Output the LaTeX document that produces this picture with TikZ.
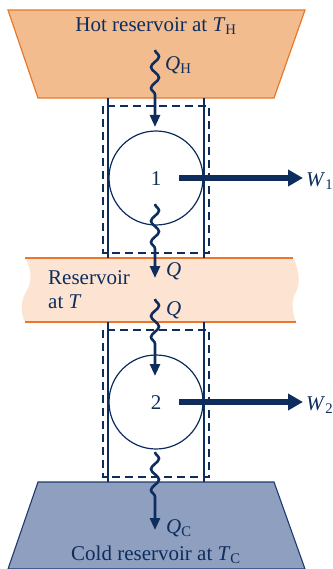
\documentclass[tikz,border=0pt]{standalone}
\usepackage{fontspec}
\setmainfont{Liberation Serif}
\usetikzlibrary{arrows.meta,decorations.pathmorphing}
\definecolor{navy}{HTML}{0E2D5C}
\definecolor{hotfill}{HTML}{F2BC8F}
\definecolor{orangeline}{HTML}{E8782B}
\definecolor{midfill}{HTML}{FCE3D2}
\definecolor{coldfill}{HTML}{8E9FBF}
\definecolor{coldline}{HTML}{1E3A6A}
\tikzset{
  wave/.style={navy, line width=2.6pt, decorate,
    decoration={snake, amplitude=4pt, segment length=21pt, post length=26pt},
    -{Triangle[width=10pt,length=12pt]}},
  workarrow/.style={navy, line width=6.5pt, -{Triangle[width=16pt,length=15pt]}},
  engineline/.style={navy, line width=1.2pt},
  cvbox/.style={navy, line width=1.2pt, dash pattern=on 8pt off 5pt},
  cyclenode/.style={circle, draw=navy, line width=1.2pt, minimum size=94pt, inner sep=0pt},
  lbl/.style={inner sep=0pt, text=navy}
}
\begin{document}
\begin{tikzpicture}[x=1pt,y=-1pt, font=\fontsize{21}{24}\selectfont]
\useasboundingbox (0,0) rectangle (332,569);
% hot reservoir
\path[fill=hotfill, draw=orangeline, line width=1.2pt] (8,10) -- (305,10) -- (274,98) -- (38,98) -- cycle;
% middle reservoir
\path[fill=midfill] (25,258) -- (293,258) .. controls (300,270) and (300,285) .. (296,292)
  .. controls (291,300) and (292,312) .. (296,322) -- (25,322)
  .. controls (20,312) and (21,300) .. (26,292) .. controls (33,282) and (31,266) .. (25,258) -- cycle;
\draw[orangeline, line width=1.3pt] (25,258) -- (293,258);
\draw[orangeline, line width=1.3pt] (25,322) -- (296,322);
% cold reservoir
\path[fill=coldfill, draw=coldline, line width=1.1pt] (38,482) -- (274,482) -- (305,569) -- (8,569) -- cycle;

% engine 1
\draw[engineline] (108,98) -- (108,258);
\draw[engineline] (204,98) -- (204,258);
\draw[cvbox] (103,106) rectangle (209,253);
\node[cyclenode] (e1) at (156,178) {};
\node[lbl] (n1) at (156,179) {1};
% engine 2
\draw[engineline] (108,322) -- (108,482);
\draw[engineline] (204,322) -- (204,482);
\draw[cvbox] (103,330) rectangle (209,477);
\node[cyclenode] (e2) at (156,402) {};
\node[lbl] (n2) at (156,403) {2};

% texts
\node[lbl] (hot) at (156,26) {Hot reservoir at \textit{T}\textsubscript{H}};
\node[lbl, align=left, anchor=north west] (mid) at (48,270) {Reservoir\\at \textit{T}};
\node[lbl] (cold) at (156,555) {Cold reservoir at \textit{T}\textsubscript{C}};

% heat flows
\coordinate (qh0) at (155,50);  \coordinate (qh1) at (155,127);
\coordinate (q10) at (155,204); \coordinate (q11) at (155,278);
\coordinate (q20) at (155,299); \coordinate (q21) at (155,376);
\coordinate (qc0) at (155,452); \coordinate (qc1) at (155,530);
\draw[wave] (qh0) -- (qh1);
\draw[wave] (q10) -- (q11);
\draw[wave] (q20) -- (q21);
\draw[wave] (qc0) -- (qc1);
\node[lbl, anchor=west] (lqh) at (165,65) {\textit{Q}\textsubscript{H}};
\node[lbl, anchor=west] (lq1) at (166,271) {\textit{Q}};
\node[lbl, anchor=west] (lq2) at (166,310) {\textit{Q}};
\node[lbl, anchor=west] (lqc) at (166,528) {\textit{Q}\textsubscript{C}};

% work
\coordinate (w10) at (179,178); \coordinate (w11) at (303,178);
\coordinate (w20) at (179,402); \coordinate (w21) at (303,402);
\draw[workarrow] (w10) -- (w11);
\draw[workarrow] (w20) -- (w21);
\node[lbl, anchor=west] (lw1) at (306,181) {\textit{W}\textsubscript{1}};
\node[lbl, anchor=west] (lw2) at (306,405) {\textit{W}\textsubscript{2}};
\end{tikzpicture}
\end{document}
